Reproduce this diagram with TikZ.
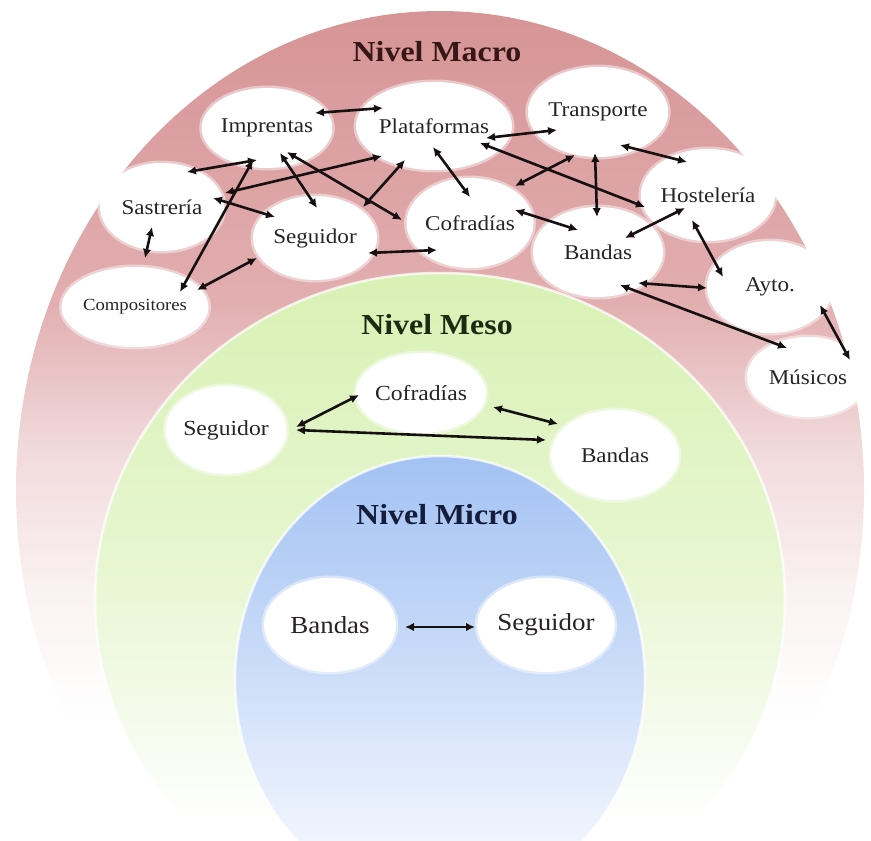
\documentclass[tikz,border=0pt]{standalone}
\usepackage{fontspec}
\setmainfont[FakeStretch=1.1]{Liberation Serif}
\usetikzlibrary{arrows.meta,calc,shapes.geometric}

% ring colours
\definecolor{macA}{RGB}{214,148,150}
\definecolor{macB}{RGB}{226,174,176}
\definecolor{macC}{RGB}{241,218,220}
\definecolor{macD}{RGB}{251,243,243}
\definecolor{mesA}{RGB}{216,241,180}
\definecolor{mesB}{RGB}{230,246,207}
\definecolor{mesC}{RGB}{243,250,232}
\definecolor{micA}{RGB}{163,194,243}
\definecolor{micB}{RGB}{200,218,248}
\definecolor{micC}{RGB}{240,245,254}
\definecolor{txt}{RGB}{40,36,36}
\definecolor{lnk}{RGB}{22,16,16}

% vertical fades: 25bp = bottom of the ellipse, 75bp = its top
\pgfdeclareverticalshading{macrofade}{100bp}{color(0bp)=(white); color(38bp)=(white);
  color(44.3bp)=(macD); color(52.1bp)=(macC); color(59.9bp)=(macB); color(75bp)=(macA); color(100bp)=(macA)}
\pgfdeclareverticalshading{mesofade}{100bp}{color(0bp)=(white); color(33bp)=(white);
  color(42.4bp)=(mesC); color(53.8bp)=(mesB); color(75bp)=(mesA); color(100bp)=(mesA)}
\pgfdeclareverticalshading{microfade}{100bp}{color(0bp)=(white); color(25bp)=(white);
  color(32bp)=(micC); color(53.3bp)=(micB); color(75bp)=(micA); color(100bp)=(micA)}

\tikzset{
  bub/.style={ellipse, fill=white, draw=white, draw opacity=.45, line width=5pt,
    inner sep=0pt, text=txt, font=\fontsize{21}{22}\selectfont},
  title/.style={font=\bfseries\fontsize{29}{30}\selectfont},
  link/.style={{Latex[length=9pt,width=8.5pt]}-{Latex[length=9pt,width=8.5pt]},
    line width=2.6pt, draw=lnk},
  rim/.style={draw=white, draw opacity=.75, line width=2.5pt}
}

\begin{document}
\begin{tikzpicture}[x=1pt,y=-1pt]
\useasboundingbox (0,0) rectangle (871,841);
\clip (0,0) rectangle (871,841);
\fill[white] (0,0) rectangle (871,841);

% nested levels
\shade[shading=macrofade] (440,490) ellipse [x radius=424, y radius=479];
\shade[shading=mesofade] (440,600) ellipse [x radius=345, y radius=327];
\draw[rim] (440,600) ellipse [x radius=345, y radius=327];
\shade[shading=microfade] (440,680) ellipse [x radius=205, y radius=224];
\draw[rim] (440,680) ellipse [x radius=205, y radius=224];

% level titles
\node[title, text={rgb,255:red,55;green,22;blue,22}] (tmac) at (437,52) {Nivel Macro};
\node[title, text={rgb,255:red,28;green,42;blue,18}] (tmes) at (437,325) {Nivel Meso};
\node[title, text={rgb,255:red,20;green,30;blue,60}] (tmic) at (437,515) {Nivel Micro};

% macro level
\node[bub, minimum width=126pt, minimum height=80pt] (imp) at (267,128) {Imprentas};
\node[bub, minimum width=128pt, minimum height=88pt] (pla) at (434,126) {Plataformas};
\node[bub, minimum width=124pt, minimum height=90pt] (tra) at (598,112) {Transporte};
\node[bub, minimum width=124pt, minimum height=92pt] (hos) at (708,195) {Hostelería};
\node[bub, minimum width=124pt, minimum height=88pt] (sas) at (162,207) {Sastrería};
\node[bub, minimum width=126pt, minimum height=90pt] (cof) at (470,223) {Cofradías};
\node[bub, minimum width=124pt, minimum height=84pt] (seg) at (315,238) {Seguidor};
\node[bub, minimum width=130pt, minimum height=90pt] (ban) at (598,252) {Bandas};
\node[bub, minimum width=126pt, minimum height=92pt] (ayt) at (770,287) {Ayto.};
\node[bub, minimum width=124pt, minimum height=80pt, font=\fontsize{17}{18}\selectfont]
  (com) at (135,307) {Compositores};
\node[bub, minimum width=122pt, minimum height=80pt] (mus) at (808,377) {Músicos};

% meso level
\node[bub, minimum width=118pt, minimum height=88pt, font=\fontsize{21.5}{22}\selectfont]
  (seg2) at (226,430) {Seguidor};
\node[bub, minimum width=124pt, minimum height=80pt, font=\fontsize{21.5}{22}\selectfont]
  (cof2) at (421,393) {Cofradías};
\node[bub, minimum width=128pt, minimum height=90pt, font=\fontsize{21}{22}\selectfont]
  (ban2) at (615,455) {Bandas};

% micro level
\node[bub, minimum width=132pt, minimum height=94pt, font=\fontsize{24.5}{25}\selectfont]
  (ban3) at (330,625) {Bandas};
\node[bub, minimum width=130pt, minimum height=94pt, font=\fontsize{24.5}{25}\selectfont]
  (seg3) at (546,625) {Seguidor};

% macro relations
\draw[link] ($(imp)+(48,-15)$) -- ($(pla)+(-51,-18)$);
\draw[link] ($(imp)+(-10,32)$) -- ($(sas)+(25,-35)$);
\draw[link] ($(sas)+(63,-14)$) -- ($(pla)+(-52,30)$);
\draw[link] ($(sas)+(51,-9)$) -- ($(seg)+(-40,-21)$);
\draw[link] ($(sas)+(-10,20)$) -- ($(com)+(10,-49)$);
\draw[link] ($(imp)+(-14,32)$) -- ($(com)+(45,-15)$);
\draw[link] ($(com)+(62,-17)$) -- ($(seg)+(-58,20)$);
\draw[link] ($(imp)+(13,25)$) -- ($(seg)+(2,-30)$);
\draw[link] ($(imp)+(20,24)$) -- ($(cof)+(-68,-3)$);
\draw[link] ($(seg)+(48,-31)$) -- ($(pla)+(-29,34)$);
\draw[link] ($(seg)+(53,15)$) -- ($(cof)+(-33,27)$);
\draw[link] ($(pla)+(-1,21)$) -- ($(cof)+(0,-26)$);
\draw[link] ($(pla)+(52,12)$) -- ($(tra)+(-41,18)$);
\draw[link] ($(pla)+(46,17)$) -- ($(hos)+(-63,12)$);
\draw[link] ($(cof)+(45,-37)$) -- ($(tra)+(-23,43)$);
\draw[link] ($(tra)+(-3,41)$) -- ($(ban)+(-1,-35)$);
\draw[link] ($(tra)+(22,33)$) -- ($(hos)+(-21,-33)$);
\draw[link] ($(cof)+(45,-13)$) -- ($(ban)+(-20,-22)$);
\draw[link] ($(hos)+(-23,13)$) -- ($(ban)+(27,-14)$);
\draw[link] ($(hos)+(-16,25)$) -- ($(ayt)+(-47,-10)$);
\draw[link] ($(ban)+(40,31)$) -- ($(ayt)+(-63,1)$);
\draw[link] ($(ban)+(22,33)$) -- ($(mus)+(-21,-29)$);
\draw[link] ($(ayt)+(50,18)$) -- ($(mus)+(42,-17)$);

% meso relations
\draw[link] ($(seg2)+(70,-3)$) -- ($(cof2)+(-62,2)$);
\draw[link] ($(seg2)+(70,0)$) -- ($(ban2)+(-69,-15)$);
\draw[link] ($(cof2)+(72,14)$) -- ($(ban2)+(-57,-31)$);

% micro relation
\draw[link] ($(ban3)+(75,2)$) -- ($(seg3)+(-71,2)$);
\end{tikzpicture}
\end{document}
